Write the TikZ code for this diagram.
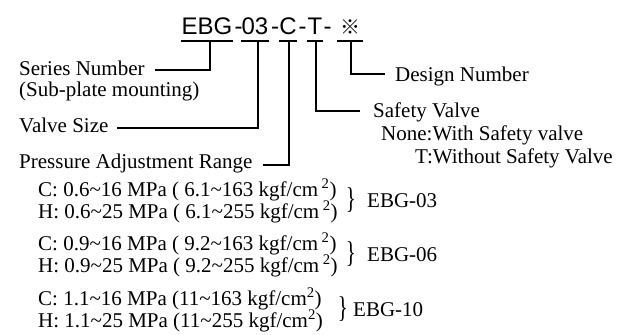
\documentclass[tikz,border=0pt]{standalone}
\usepackage{fontspec}
\setmainfont{Liberation Serif}
\newfontfamily\hdrfont{Liberation Sans}
\newfontfamily\cjkfont{Noto Sans CJK JP}
\usetikzlibrary{calc}
\newcommand{\tl}{\textasciitilde}
\newcommand{\sqtwo}{\textsuperscript{2}}
\begin{document}
\begin{tikzpicture}[x=1pt,y=-1pt,
  lbl/.style={anchor=base west, inner sep=0pt, font=\fontsize{21}{24}\selectfont},
  hdr/.style={anchor=base, inner sep=0pt, font=\hdrfont\fontsize{24}{28}\selectfont},
  uline/.style={line width=2.6pt},
  conn/.style={line width=1.2pt},
  brc/.style={anchor=center, inner sep=0pt, font=\fontsize{30}{30}\selectfont}]
\useasboundingbox (0,0) rectangle (633,335);
\fill[white] (0,0) rectangle (633,335);
% header
\node[hdr] (hE) at (207,34) {EBG};
\node[hdr] (hd1) at (238.5,34) {-};
\node[hdr] (h03) at (255,34) {03};
\node[hdr] (hd2) at (275,34) {-};
\node[hdr] (hC) at (288,34) {C};
\node[hdr] (hd3) at (302.5,34) {-};
\node[hdr] (hT) at (315,34) {T};
\node[hdr] (hd4) at (327.5,34) {-};
\node[hdr, font=\cjkfont\fontsize{20}{24}\selectfont] (hX) at (350,34) {※};
\coordinate (ul) at (0,41);
\draw[uline] (hE.west |- ul) -- (hE.east |- ul);
\draw[uline] (h03.west |- ul) -- (h03.east |- ul);
\draw[uline] (hC.west |- ul) -- (hC.east |- ul);
\draw[uline] (hT.west |- ul) -- (hT.east |- ul);
\draw[uline] ($(hX.west |- ul)+(-3,0)$) -- ($(hX.east |- ul)+(3,0)$);
% labels
\node[lbl] (series) at (19,75) {Series Number};
\node[lbl] (subplate) at (19,96) {(Sub-plate mounting)};
\node[lbl] (vsize) at (19,132) {Valve Size};
\node[lbl] (pres) at (19,168) {Pressure Adjustment Range};
\node[lbl] (design) at (395,81) {Design Number};
\node[lbl] (safety) at (373,117) {Safety Valve};
\node[lbl] (none) at (381,140) {None:With Safety valve};
\node[lbl] (tw) at (415,163) {T:Without Safety Valve};
% connectors
\draw[conn] ($(hE.south |- ul)+(3,0)$) |- ($(series.base east)+(10,-5)$);
\draw[conn] ($(h03.south |- ul)+(3,0)$) |- ($(vsize.base east)+(8,-4)$);
\draw[conn] ($(hC.south |- ul)+(1,0)$) |- ($(pres.base east)+(10,-3)$);
\draw[conn] ($(hT.south |- ul)+(1,0)$) |- ($(safety.base west)+(-13,-6)$);
\draw[conn] ($(hX.south |- ul)+(1,0)$) |- ($(design.base west)+(-10,-7)$);
% ranges
\node[lbl] (c1) at (38,196) {C: 0.6\tl16 MPa ( 6.1\tl163 kgf/cm\,\sqtwo)};
\node[lbl] (h1) at (38,218) {H: 0.6\tl25 MPa ( 6.1\tl255 kgf/cm\,\sqtwo)};
\node[lbl] (c2) at (38,250) {C: 0.9\tl16 MPa ( 9.2\tl163 kgf/cm\,\sqtwo)};
\node[lbl] (h2) at (38,272) {H: 0.9\tl25 MPa ( 9.2\tl255 kgf/cm\,\sqtwo)};
\node[lbl] (c3) at (38,305) {C: 1.1\tl16 MPa (11\tl163 kgf/cm\sqtwo)};
\node[lbl] (h3) at (38,327) {H: 1.1\tl25 MPa (11\tl255 kgf/cm\sqtwo)};
\node[brc] (b1) at (351,200) {\scalebox{0.7}[1]{\}}};
\node[lbl] (g1) at (367,207) {EBG-03};
\node[brc] (b2) at (351,254) {\scalebox{0.7}[1]{\}}};
\node[lbl] (g2) at (367,261) {EBG-06};
\node[brc] (b3) at (343,309) {\scalebox{0.7}[1]{\}}};
\node[lbl] (g3) at (353,316) {EBG-10};
\end{tikzpicture}
\end{document}
